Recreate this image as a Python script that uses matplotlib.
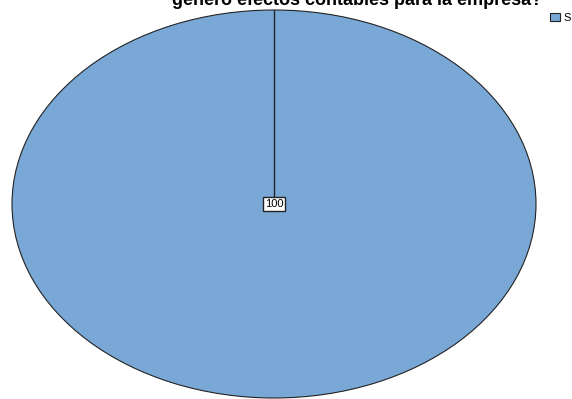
import matplotlib.pyplot as plt

plt.rcParams['font.family'] = ['Liberation Sans', 'DejaVu Sans']

# frequencies
labels = ["S"]
values = [100]
colors = ["#79a8d6"]

title = "generó efectos contables para la empresa?"

fig = plt.figure(figsize=(5.72, 3.99), dpi=100)
fig.patch.set_facecolor("white")

# pie stretched to an ellipse by the axes box
ax = fig.add_axes([12 / 572, 1 / 399, 524 / 572, 388 / 399])
wedges, _ = ax.pie(values, colors=colors, startangle=90, counterclock=False,
                   wedgeprops=dict(edgecolor="#222222", linewidth=0.8))
ax.set_aspect("auto")
ax.set_xlim(-1, 1)
ax.set_ylim(-1, 1)
ax.axis("off")

# radial separator at the start angle
ax.plot([0, 0], [0, 1], color="#222222", linewidth=1.0)

ax.text(0, 0, f"{values[0]}", ha="center", va="center", fontsize=8,
        bbox=dict(boxstyle="square,pad=0.2", facecolor="white",
                  edgecolor="#222222", linewidth=1.0))

fig.text(357 / 572, 1 - 5 / 399, title, ha="center", va="baseline",
         fontsize=13, fontweight="bold")

# legend
leg = fig.legend(wedges, labels, loc="upper right", bbox_to_anchor=(1.012, 0.988),
                 frameon=False, fontsize=8, handlelength=0.9, handleheight=0.8,
                 handletextpad=0.3, borderpad=0.2)

fig.savefig("out.png", dpi=100)
